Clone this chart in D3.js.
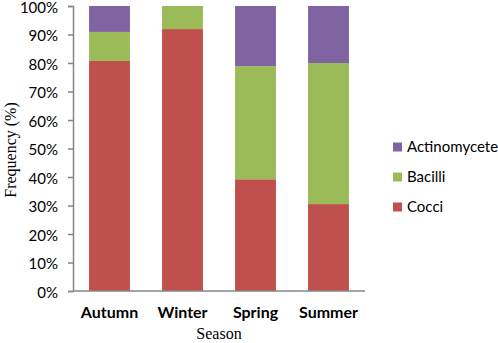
<!DOCTYPE html>
<html>
<head>
<meta charset="utf-8">
<script src="https://cdn.jsdelivr.net/npm/d3@7"></script>
<style>
  body { margin: 0; background: #fff; }
  svg { display: block; }
</style>
</head>
<body>
<svg class="main" width="498" height="343"></svg>
<script>
// данные графика
const seasons = ["Autumn", "Winter", "Spring", "Summer"];
const seriesNames = ["Cocci", "Bacilli", "Actinomycete"];
const cocci = [80.7, 91.9, 39.2, 30.5];
const bacilli = [10.2, 8.1, 39.7, 49.5];
const actinomycete = [9.1, 0, 21.1, 20.0];
const colors = ["#C0504D", "#9BBB59", "#8064A2"];
const yTicks = [0, 10, 20, 30, 40, 50, 60, 70, 80, 90, 100];

const svg = d3.select("svg.main");
const font = "Lato, 'Open Sans', sans-serif";

const x = d3.scaleBand().domain(seasons).range([73, 365]).paddingInner(0.44).paddingOuter(0.22);
const y = d3.scaleLinear().domain([0, 100]).range([291, 6]);

// собираем таблицу для stack
const table = seasons.map((s, i) => ({
    season: s, Cocci: cocci[i], Bacilli: bacilli[i], Actinomycete: actinomycete[i]
}));
const stacked = d3.stack().keys(seriesNames)(table);

svg.append("g")
    .selectAll("g")
    .data(stacked)
    .join("g")
    .attr("fill", (d, i) => colors[i])
    .selectAll("rect")
    .data(d => d)
    .join("rect")
    .attr("x", d => x(d.data.season))
    .attr("y", d => y(d[1]))
    .attr("width", x.bandwidth())
    .attr("height", d => y(d[0]) - y(d[1]));

// ось Y
const yAxis = svg.append("g")
    .attr("transform", "translate(73,0)")
    .call(d3.axisLeft(y).tickValues(yTicks).tickSize(5).tickPadding(10).tickFormat(d => d + "%"));
yAxis.select(".domain").attr("stroke", "#868686").attr("stroke-width", 1.5);
yAxis.selectAll(".tick line").attr("stroke", "#868686").attr("stroke-width", 1.5);
yAxis.selectAll("text")
    .attr("font-family", font).attr("font-size", 15).attr("fill", "#000")
    .attr("dy", "0.4em");

// ось X
svg.append("line")
    .attr("x1", 73).attr("x2", 365)
    .attr("y1", 291).attr("y2", 291)
    .attr("stroke", "#868686").attr("stroke-width", 1.5);

svg.append("g")
    .selectAll("text")
    .data(seasons)
    .join("text")
    .attr("x", d => x(d) + x.bandwidth() / 2)
    .attr("y", 318)
    .attr("text-anchor", "middle")
    .attr("font-family", font)
    .attr("font-weight", "bold")
    .attr("font-size", 16)
    .text(d => d);

svg.append("text")
    .attr("x", 219).attr("y", 339)
    .attr("text-anchor", "middle")
    .attr("font-family", "'Liberation Serif', serif")
    .attr("font-size", 16)
    .text("Season");

svg.append("text")
    .attr("transform", "translate(16,150) rotate(-90)")
    .attr("text-anchor", "middle")
    .attr("font-family", "'Liberation Serif', serif")
    .attr("font-size", 16)
    .text("Frequency (%)");

// легенда
const legendY = [207, 177, 147];
const legend = svg.append("g")
    .selectAll("g")
    .data(seriesNames)
    .join("g")
    .attr("transform", (d, i) => `translate(393,${legendY[i]})`);
legend.append("rect")
    .attr("x", 0).attr("y", -4.5)
    .attr("width", 9).attr("height", 9)
    .attr("fill", (d, i) => colors[i]);
legend.append("text")
    .attr("x", 14).attr("y", 5)
    .attr("font-family", font)
    .attr("font-size", 15)
    .text(d => d);
</script>
</body>
</html>
